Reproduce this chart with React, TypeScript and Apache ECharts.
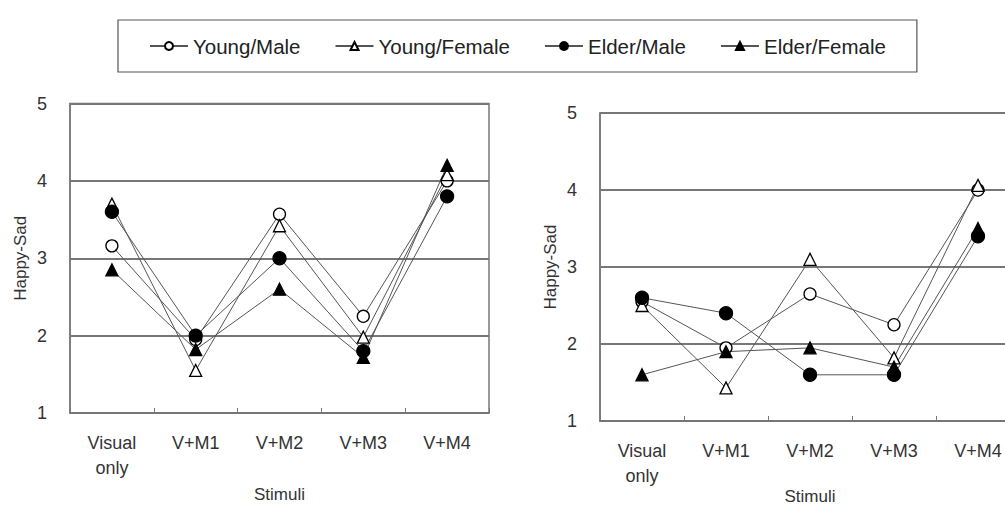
import React, { useEffect, useRef } from "react";
import * as echarts from "echarts";

const categories = ["Visual\nonly", "V+M1", "V+M2", "V+M3", "V+M4"];
const seriesNames = ["Young/Male", "Young/Female", "Elder/Male", "Elder/Female"];

// Left panel values
const leftYoungMale = [3.16, 1.95, 3.57, 2.25, 4.0];
const leftYoungFemale = [3.7, 1.55, 3.42, 1.98, 4.08];
const leftElderMale = [3.6, 2.0, 3.0, 1.8, 3.8];
const leftElderFemale = [2.85, 1.82, 2.6, 1.72, 4.2];

// Right panel values
const rightYoungMale = [2.55, 1.95, 2.65, 2.25, 4.0];
const rightYoungFemale = [2.5, 1.43, 3.1, 1.82, 4.06];
const rightElderMale = [2.6, 2.4, 1.6, 1.6, 3.4];
const rightElderFemale = [1.6, 1.9, 1.95, 1.7, 3.5];

const yTicks = [1, 2, 3, 4, 5];

const FONT = "Liberation Sans, Arial, sans-serif";

const markerStyles = [
  { symbol: "circle", size: 12, fill: "#ffffff" },
  { symbol: "triangle", size: 12, fill: "#ffffff" },
  { symbol: "circle", size: 13, fill: "#000000" },
  { symbol: "triangle", size: 12, fill: "#000000" },
];

export default function App() {
  const ref = useRef<HTMLDivElement>(null);
  useEffect(() => {
    if (!ref.current) return;
    const chart = echarts.init(ref.current, null, { renderer: "svg" });
    const leftData = [leftYoungMale, leftYoungFemale, leftElderMale, leftElderFemale];
    const rightData = [rightYoungMale, rightYoungFemale, rightElderMale, rightElderFemale];

    const makeSeries = (data: number[][], idx: number) =>
      data.map((d, i) => ({
        name: seriesNames[i],
        type: "line",
        xAxisIndex: idx,
        yAxisIndex: idx,
        data: d,
        symbol: markerStyles[i].symbol,
        symbolSize: markerStyles[i].size,
        showAllSymbol: true,
        lineStyle: { color: "#555", width: 1 },
        itemStyle: {
          color: markerStyles[i].fill,
          borderColor: "#000",
          borderWidth: 1.3,
          opacity: 1,
        },
        emphasis: { disabled: true },
      }));

    const xAxisBase = (gridIndex: number, nameGap: number) => ({
      type: "category",
      gridIndex,
      data: categories,
      boundaryGap: true,
      name: "Stimuli",
      nameLocation: "middle",
      nameGap,
      nameMoveOverlap: false,
      nameTextStyle: { fontFamily: FONT, fontSize: 17, color: "#333", lineHeight: 18 },
      axisLine: { show: true, lineStyle: { color: "#777", width: 1.5 } },
      axisTick: { show: true, inside: true, length: 5, lineStyle: { color: "#777" } },
      axisLabel: {
        fontFamily: FONT,
        fontSize: 18,
        color: "#333",
        lineHeight: 25,
        margin: 17,
        interval: 0,
      },
      splitLine: { show: false },
    });

    const yAxisBase = (gridIndex: number) => ({
      type: "value",
      gridIndex,
      min: yTicks[0],
      max: yTicks[yTicks.length - 1],
      interval: 1,
      name: "Happy-Sad",
      nameLocation: "middle",
      nameGap: 41,
      nameRotate: 90,
      nameTextStyle: { fontFamily: FONT, fontSize: 17, color: "#333" },
      axisLine: { show: true, lineStyle: { color: "#777", width: 1.5 } },
      axisTick: { show: false },
      axisLabel: { fontFamily: FONT, fontSize: 18, color: "#333", margin: 23 },
      splitLine: { show: true, lineStyle: { color: "#777", width: 2 } },
    });

    chart.setOption({
      animation: false,
      backgroundColor: "#ffffff",
      legend: {
        data: seriesNames,
        left: 118,
        top: 20,
        orient: "horizontal",
        padding: [15, 31, 15, 31],
        itemGap: 34,
        itemWidth: 38,
        itemHeight: 10,
        borderColor: "#555",
        borderWidth: 1.2,
        textStyle: { fontFamily: FONT, fontSize: 20.5, color: "#222", lineHeight: 22 },
      },
      grid: [
        {
          left: 70,
          top: 103.5,
          width: 419,
          height: 309.5,
          show: true,
          borderColor: "#777",
          borderWidth: 1.5,
          containLabel: false,
          outerBoundsMode: "none",
        },
        {
          left: 600,
          top: 113,
          width: 420,
          height: 308,
          show: true,
          borderColor: "#777",
          borderWidth: 1.5,
          containLabel: false,
          outerBoundsMode: "none",
        },
      ],
      xAxis: [xAxisBase(0, 72), xAxisBase(1, 66)],
      yAxis: [yAxisBase(0), yAxisBase(1)],
      series: [...makeSeries(leftData, 0), ...makeSeries(rightData, 1)],
    });
    return () => chart.dispose();
  }, []);
  return (
    <div
      ref={ref}
      style={{ position: "absolute", left: 0, top: 0, width: 1005, height: 509 }}
    />
  );
}
